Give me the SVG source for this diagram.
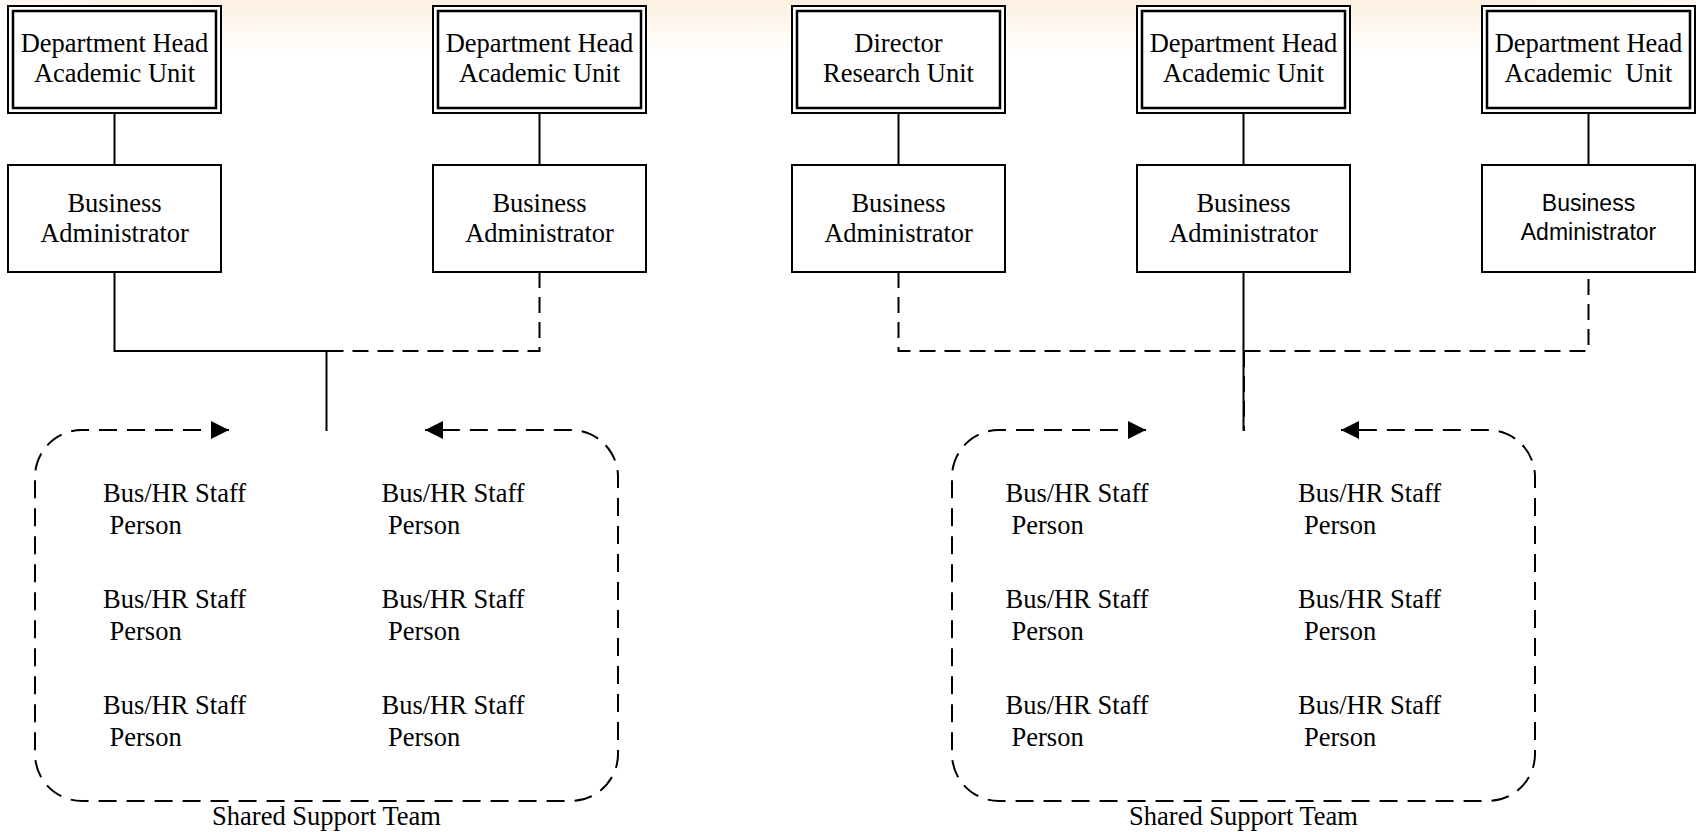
<svg xmlns="http://www.w3.org/2000/svg" width="1696" height="832" viewBox="0 0 1696 832">
<defs>
<style>
.bg{fill:#ffffff}
.box{fill:#ffffff;stroke:#000;stroke-width:2}
.inner{fill:none;stroke:#000;stroke-width:2.5}
.ln{fill:none;stroke:#000;stroke-width:2}
.dash{stroke-dasharray:16 9}
.rdash{stroke-dasharray:18 10}
.t{font-family:"Liberation Serif","Times New Roman",serif;font-size:26.5px;fill:#000}
.c{text-anchor:middle}
.s{font-family:"Liberation Sans",Arial,sans-serif;font-size:23px;fill:#000;text-anchor:middle}
</style>
<linearGradient id="glow" x1="0" y1="0" x2="0" y2="1">
<stop offset="0" stop-color="#FDF0E1"/>
<stop offset="1" stop-color="#FFFFFF"/>
</linearGradient>
<linearGradient id="fadeH" x1="0" y1="0" x2="1" y2="0">
<stop offset="0" stop-color="#fff" stop-opacity="0.6"/>
<stop offset="0.12" stop-color="#fff" stop-opacity="0"/>
<stop offset="0.9" stop-color="#fff" stop-opacity="0"/>
<stop offset="1" stop-color="#fff" stop-opacity="0.5"/>
</linearGradient>
<marker id="arr" markerUnits="userSpaceOnUse" markerWidth="18" markerHeight="18" refX="18" refY="9" orient="auto-start-reverse" viewBox="0 0 18 18">
<path d="M0,0 L18,9 L0,18 Z" fill="#000"/>
</marker>
</defs>
<rect class="bg" x="0" y="0" width="1696" height="832"/>
<rect x="0" y="0" width="1696" height="55" fill="url(#glow)"/>
<rect x="0" y="0" width="1696" height="55" fill="url(#fadeH)"/>

<g id="connectors">
<path class="ln" d="M114.5,113 V165"/>
<path class="ln" d="M539.5,113 V165"/>
<path class="ln" d="M898.5,113 V165"/>
<path class="ln" d="M1243.5,113 V165"/>
<path class="ln" d="M1588.5,113 V165"/>
<path class="ln" d="M114.5,272 V351 H339"/>
<path class="ln" d="M326.5,351 V431"/>
<path class="ln dash" d="M539.5,272 V351 H339"/>
<path class="ln dash" d="M898.5,272 V351 H1588.5 V272"/>
<path class="ln" d="M1243.5,272 V431"/>
<path class="ln dash" d="M1244,351 V431"/>
</g>

<g id="node-dh1">
<rect class="box" x="8" y="6" width="213" height="107"/>
<rect class="inner" x="13" y="11" width="203" height="97"/>
<text class="t c" x="114.5" y="52">Department Head</text>
<text class="t c" x="114.5" y="82">Academic Unit</text>
</g>
<g id="node-dh2">
<rect class="box" x="433" y="6" width="213" height="107"/>
<rect class="inner" x="438" y="11" width="203" height="97"/>
<text class="t c" x="539.5" y="52">Department Head</text>
<text class="t c" x="539.5" y="82">Academic Unit</text>
</g>
<g id="node-dir">
<rect class="box" x="792" y="6" width="213" height="107"/>
<rect class="inner" x="797" y="11" width="203" height="97"/>
<text class="t c" x="898.5" y="52">Director</text>
<text class="t c" x="898.5" y="82">Research Unit</text>
</g>
<g id="node-dh3">
<rect class="box" x="1137" y="6" width="213" height="107"/>
<rect class="inner" x="1142" y="11" width="203" height="97"/>
<text class="t c" x="1243.5" y="52">Department Head</text>
<text class="t c" x="1243.5" y="82">Academic Unit</text>
</g>
<g id="node-dh4">
<rect class="box" x="1482" y="6" width="213" height="107"/>
<rect class="inner" x="1487" y="11" width="203" height="97"/>
<text class="t c" x="1588.5" y="52">Department Head</text>
<text class="t c" x="1588.5" y="82" xml:space="preserve">Academic  Unit</text>
</g>

<g id="node-ba1">
<rect class="box" x="8" y="165" width="213" height="107"/>
<text class="t c" x="114.5" y="212">Business</text>
<text class="t c" x="114.5" y="242">Administrator</text>
</g>
<g id="node-ba2">
<rect class="box" x="433" y="165" width="213" height="107"/>
<text class="t c" x="539.5" y="212">Business</text>
<text class="t c" x="539.5" y="242">Administrator</text>
</g>
<g id="node-ba3">
<rect class="box" x="792" y="165" width="213" height="107"/>
<text class="t c" x="898.5" y="212">Business</text>
<text class="t c" x="898.5" y="242">Administrator</text>
</g>
<g id="node-ba4">
<rect class="box" x="1137" y="165" width="213" height="107"/>
<text class="t c" x="1243.5" y="212">Business</text>
<text class="t c" x="1243.5" y="242">Administrator</text>
</g>
<g id="node-ba5">
<rect class="box" x="1482" y="165" width="213" height="107"/>
<text class="s" x="1588.5" y="211">Business</text>
<text class="s" x="1588.5" y="239.5">Administrator</text>
</g>

<g id="team-left">
<path class="ln rdash" marker-start="url(#arr)" marker-end="url(#arr)" d="M229,430 H82 A47,47 0 0 0 35,477 V754 A47,47 0 0 0 82,801 H571 A47,47 0 0 0 618,754 V477 A47,47 0 0 0 571,430 H425"/>
<text class="t" x="103" y="502">Bus/HR Staff</text>
<text class="t" x="109.5" y="534">Person</text>
<text class="t" x="381.5" y="502">Bus/HR Staff</text>
<text class="t" x="388" y="534">Person</text>
<text class="t" x="103" y="608">Bus/HR Staff</text>
<text class="t" x="109.5" y="640">Person</text>
<text class="t" x="381.5" y="608">Bus/HR Staff</text>
<text class="t" x="388" y="640">Person</text>
<text class="t" x="103" y="713.5">Bus/HR Staff</text>
<text class="t" x="109.5" y="745.5">Person</text>
<text class="t" x="381.5" y="713.5">Bus/HR Staff</text>
<text class="t" x="388" y="745.5">Person</text>
<text class="t c" x="326.5" y="825">Shared Support Team</text>
</g>

<g id="team-right">
<path class="ln rdash" marker-start="url(#arr)" marker-end="url(#arr)" d="M1146,430 H999 A47,47 0 0 0 952,477 V754 A47,47 0 0 0 999,801 H1488 A47,47 0 0 0 1535,754 V477 A47,47 0 0 0 1488,430 H1341"/>
<text class="t" x="1005.5" y="502">Bus/HR Staff</text>
<text class="t" x="1011.5" y="534">Person</text>
<text class="t" x="1298" y="502">Bus/HR Staff</text>
<text class="t" x="1304" y="534">Person</text>
<text class="t" x="1005.5" y="608">Bus/HR Staff</text>
<text class="t" x="1011.5" y="640">Person</text>
<text class="t" x="1298" y="608">Bus/HR Staff</text>
<text class="t" x="1304" y="640">Person</text>
<text class="t" x="1005.5" y="713.5">Bus/HR Staff</text>
<text class="t" x="1011.5" y="745.5">Person</text>
<text class="t" x="1298" y="713.5">Bus/HR Staff</text>
<text class="t" x="1304" y="745.5">Person</text>
<text class="t c" x="1243.5" y="825">Shared Support Team</text>
</g>
</svg>
